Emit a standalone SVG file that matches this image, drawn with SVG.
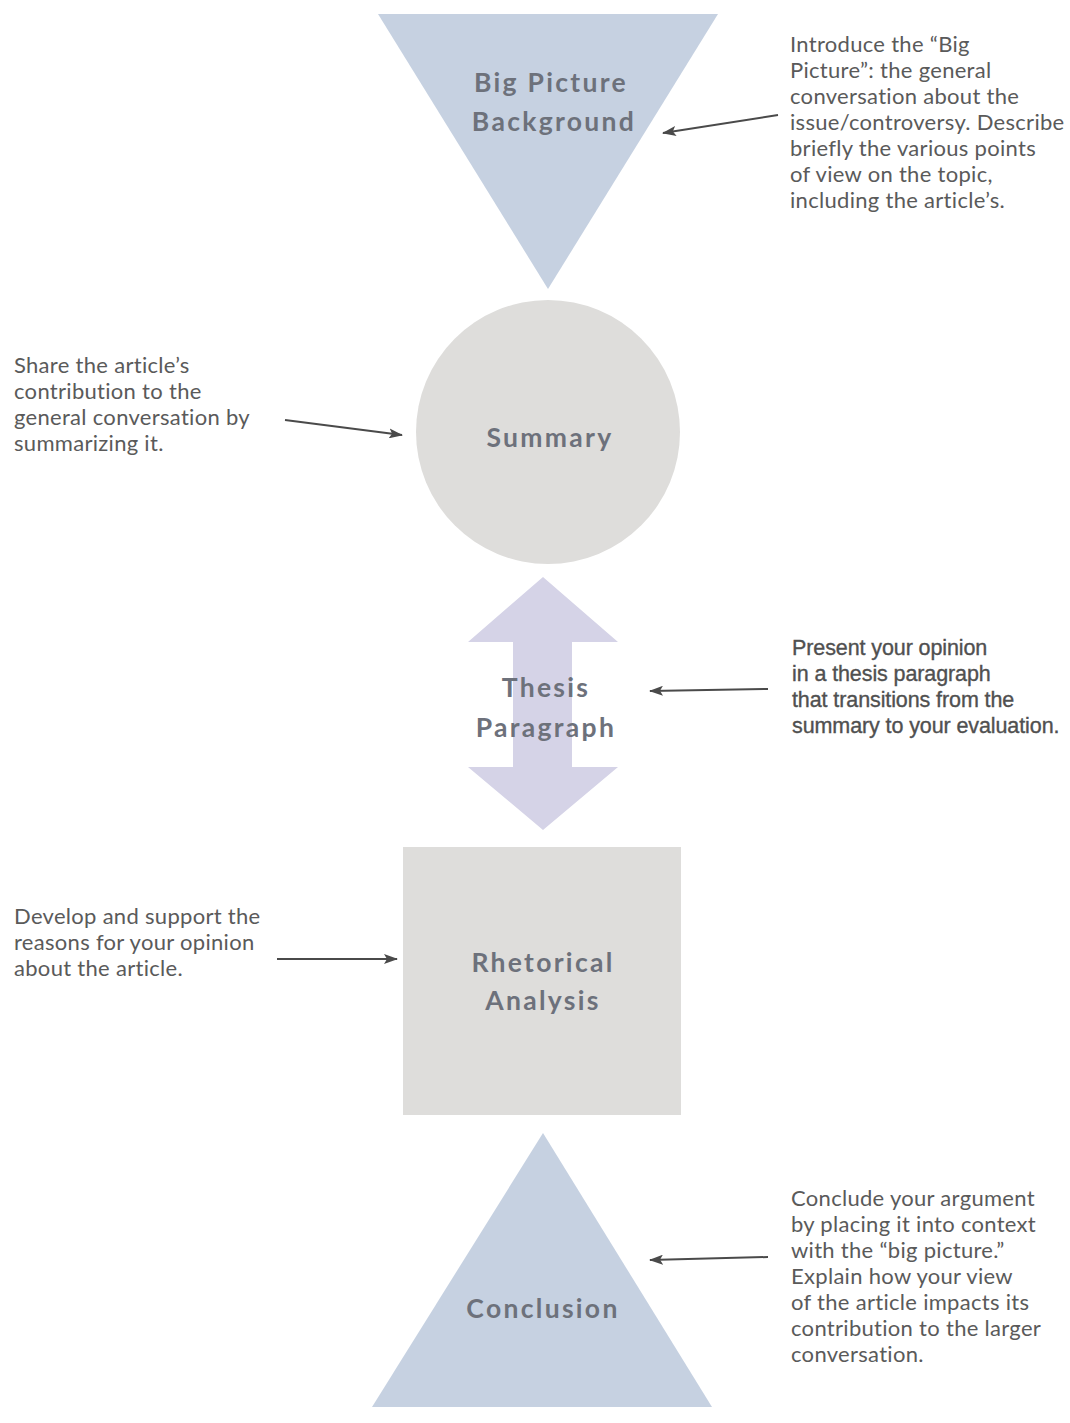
<svg xmlns="http://www.w3.org/2000/svg" width="1070" height="1423" viewBox="0 0 1070 1423">
<style>
.lbl{font-family:Lato,"Open Sans","DejaVu Sans",sans-serif;font-weight:bold;font-size:26.5px;fill:#6d717b;letter-spacing:2.3px;text-anchor:middle}
.desc{font-family:Lato,"Open Sans","DejaVu Sans",sans-serif;font-size:22px;fill:#5a5a5a;letter-spacing:0.3px}
.desc2{font-family:"Liberation Sans",Arial,sans-serif;font-size:21.5px;fill:#505050;stroke:#505050;stroke-width:0.35;letter-spacing:-0.1px}
.conn{stroke:#4a4a4a;stroke-width:2;fill:none;marker-end:url(#ah)}
</style>
<defs>
<marker id="ah" markerWidth="14" markerHeight="10" refX="13" refY="5" orient="auto" markerUnits="userSpaceOnUse">
<path d="M0,0 L14,5 L0,10 L3,5 Z" fill="#4a4a4a"/>
</marker>
</defs>
<rect width="1070" height="1423" fill="#ffffff"/>
<g id="big-picture">
<polygon points="378,14 718,14 548,289" fill="#c6d1e1"/>
<text class="lbl" x="551" y="92">Big Picture</text>
<text class="lbl" x="554" y="131">Background</text>
</g>
<g id="big-picture-note">
<text class="desc" x="790"><tspan x="790" y="52">Introduce the “Big</tspan><tspan x="790" y="78">Picture”: the general</tspan><tspan x="790" y="104">conversation about the</tspan><tspan x="790" y="130">issue/controversy. Describe</tspan><tspan x="790" y="156">briefly the various points</tspan><tspan x="790" y="182">of view on the topic,</tspan><tspan x="790" y="208">including the article’s.</tspan></text>
</g>
<g id="summary">
<circle cx="548" cy="432" r="132" fill="#dedddb"/>
<text class="lbl" x="550" y="447">Summary</text>
</g>
<g id="summary-note">
<text class="desc" x="14"><tspan x="14" y="373">Share the article’s</tspan><tspan x="14" y="399">contribution to the</tspan><tspan x="14" y="425">general conversation by</tspan><tspan x="14" y="451">summarizing it.</tspan></text>
</g>
<g id="thesis">
<polygon points="543,577 618,642 572,642 572,767 618,767 543,830 468,767 513,767 513,642 468,642" fill="#d5d3e7"/>
<text class="lbl" x="546" y="697">Thesis</text>
<text class="lbl" x="546" y="737">Paragraph</text>
</g>
<g id="thesis-note">
<text class="desc2" x="792"><tspan x="792" y="655">Present your opinion</tspan><tspan x="792" y="681">in a thesis paragraph</tspan><tspan x="792" y="707">that transitions from the</tspan><tspan x="792" y="733">summary to your evaluation.</tspan></text>
</g>
<g id="rhetorical">
<rect x="403" y="847" width="278" height="268" fill="#dedddb"/>
<text class="lbl" x="543" y="972">Rhetorical</text>
<text class="lbl" x="543" y="1010">Analysis</text>
</g>
<g id="rhetorical-note">
<text class="desc" x="14"><tspan x="14" y="924">Develop and support the</tspan><tspan x="14" y="950">reasons for your opinion</tspan><tspan x="14" y="976">about the article.</tspan></text>
</g>
<g id="conclusion">
<polygon points="543,1133 712,1407 372,1407" fill="#c6d1e1"/>
<text class="lbl" x="543" y="1318">Conclusion</text>
</g>
<g id="conclusion-note">
<text class="desc" x="791"><tspan x="791" y="1206">Conclude your argument</tspan><tspan x="791" y="1232">by placing it into context</tspan><tspan x="791" y="1258">with the “big picture.”</tspan><tspan x="791" y="1284">Explain how your view</tspan><tspan x="791" y="1310">of the article impacts its</tspan><tspan x="791" y="1336">contribution to the larger</tspan><tspan x="791" y="1362">conversation.</tspan></text>
</g>
<g id="connectors">
<line class="conn" x1="778" y1="115" x2="663" y2="133"/>
<line class="conn" x1="285" y1="420" x2="402" y2="435"/>
<line class="conn" x1="768" y1="689" x2="650" y2="691"/>
<line class="conn" x1="277" y1="959" x2="397" y2="959"/>
<line class="conn" x1="768" y1="1257" x2="650" y2="1260"/>
</g>
</svg>
